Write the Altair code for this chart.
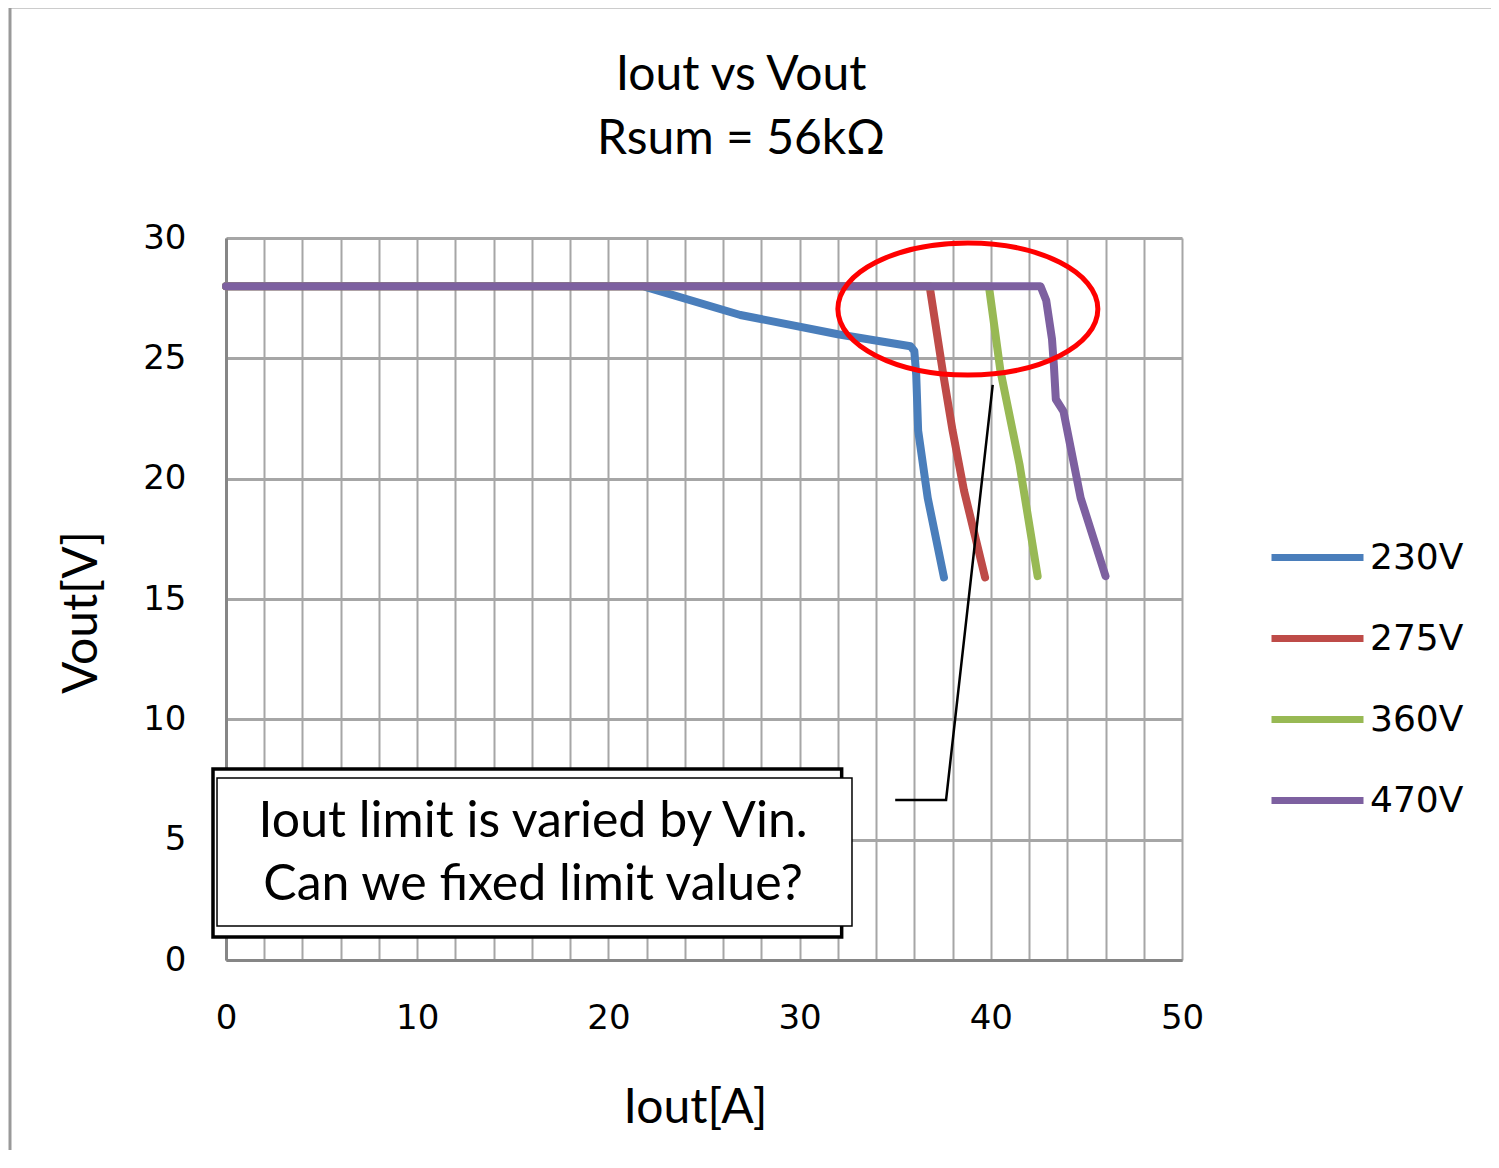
import altair as alt
import pandas as pd

# ---- data ----
series_names = ["230V", "275V", "360V", "470V"]
series_colors = ["#4A7EBB", "#BE4B48", "#98B954", "#7D60A0"]

iout_230 = [0, 21.8, 26.9, 32.0, 35.8, 36.0, 36.1, 36.2, 36.7, 37.55]
vout_230 = [28, 28, 26.8, 26.0, 25.5, 25.3, 24.3, 22.0, 19.2, 15.9]

iout_275 = [0, 36.8, 37.5, 38.0, 38.6, 39.7]
vout_275 = [28, 28, 24.4, 22.0, 19.5, 15.9]

iout_360 = [0, 39.9, 40.5, 41.5, 42.45]
vout_360 = [28, 28, 24.5, 20.6, 15.95]

iout_470 = [0, 42.6, 42.9, 43.2, 43.3, 43.4, 43.8, 44.7, 46.0]
vout_470 = [28, 28, 27.4, 25.8, 24.7, 23.3, 22.8, 19.2, 15.95]

# annotation geometry (data coordinates)
ellipse_x = [38.8]
ellipse_y = [27.05]
callout_x = [35.0, 37.66, 40.1]
callout_y = [6.65, 6.65, 23.9]
note_lines = ["Iout limit is varied by Vin.", "Can we fixed limit value?"]
note_x = [16.06, 16.06]
note_y = [5.73, 3.12]

rows = []
for name, xs_, ys_ in zip(series_names,
                          [iout_230, iout_275, iout_360, iout_470],
                          [vout_230, vout_275, vout_360, vout_470]):
    for i, (x, y) in enumerate(zip(xs_, ys_)):
        rows.append({"series": name, "iout": x, "vout": y, "idx": i})
df = pd.DataFrame(rows)

W, H = 956, 722
xs = alt.Scale(domain=[0, 50], nice=False, zero=False)
ys = alt.Scale(domain=[0, 30], nice=False, zero=False)

x_axis = alt.Axis(
    values=list(range(0, 51, 2)),
    labelExpr="datum.value % 10 === 0 ? datum.label : ''",
    grid=True, gridColor="#a6a6a6", gridWidth=2,
    domainColor="#868686", domainWidth=3,
    ticks=False, tickSize=0,
    labelFont="DejaVu Sans", labelFontSize=34, labelColor="#000",
    labelPadding=58, labelBaseline="middle", labelAlign="center",
    labelFlush=False, labelOverlap=False,
    title="Iout[A]", titleFont="Lato", titleFontSize=48, titleFontWeight="normal",
    titleColor="#000", titleX=469, titleY=148, titleBaseline="middle", titleAlign="center",
)
y_axis = alt.Axis(
    values=list(range(0, 31, 5)),
    grid=True, gridColor="#a6a6a6", gridWidth=3,
    domainColor="#868686", domainWidth=3,
    ticks=False, tickSize=0,
    labelFont="DejaVu Sans", labelFontSize=34, labelColor="#000",
    labelPadding=40, labelBaseline="middle",
    labelFlush=False, labelOverlap=False,
    title="Vout[V]", titleFont="Lato", titleFontSize=48, titleFontWeight="normal",
    titleColor="#000", titleX=-144, titleY=374, titleBaseline="middle", titleAlign="center",
)


def X(field):
    return alt.X(field, scale=xs, axis=x_axis)


def Y(field):
    return alt.Y(field, scale=ys, axis=y_axis)


frame = alt.Chart(pd.DataFrame({"a": [0]})).mark_rect(
    fill="white", fillOpacity=0, stroke="#999999", strokeWidth=3
).encode(x=alt.value(-216), x2=alt.value(1400), y=alt.value(-231), y2=alt.value(1100))

lines = alt.Chart(df).mark_line(strokeWidth=8, strokeCap="round", strokeJoin="round").encode(
    x=X("iout:Q"),
    y=Y("vout:Q"),
    color=alt.Color(
        "series:N",
        scale=alt.Scale(domain=series_names, range=series_colors),
        legend=alt.Legend(
            title=None, orient="none", legendX=1042, legendY=280,
            symbolType="stroke", symbolSize=8464, symbolStrokeWidth=7,
            labelFont="DejaVu Sans", labelFontSize=36, labelColor="#000",
            clipHeight=79, rowPadding=2, labelOffset=3, padding=0, symbolOffset=0,
        ),
    ),
    order=alt.Order("idx:Q"),
)

ellipse = alt.Chart(pd.DataFrame({"iout": ellipse_x, "vout": ellipse_y})).mark_point(
    shape="M -1 0 A 1 0.508 0 1 0 1 0 A 1 0.508 0 1 0 -1 0 Z",
    size=67600, filled=False, stroke="#ff0000", strokeWidth=5, opacity=1,
).encode(x=X("iout:Q"), y=Y("vout:Q"))

callout = alt.Chart(pd.DataFrame({"iout": callout_x, "vout": callout_y, "i": [0, 1, 2]})).mark_line(
    color="#000", strokeWidth=2.5
).encode(x=X("iout:Q"), y=Y("vout:Q"), order=alt.Order("i:Q"))

box_outer = alt.Chart(pd.DataFrame({"iout": [-0.68], "x2": [32.2], "vout": [0.96], "y2": [7.94]})).mark_rect(
    fill="white", stroke="#000", strokeWidth=3.5
).encode(x=X("iout:Q"), x2="x2:Q", y=Y("vout:Q"), y2="y2:Q")

box_inner = alt.Chart(pd.DataFrame({"iout": [-0.47], "x2": [32.74], "vout": [1.41], "y2": [7.56]})).mark_rect(
    fill="white", stroke="#000", strokeWidth=1.5
).encode(x=X("iout:Q"), x2="x2:Q", y=Y("vout:Q"), y2="y2:Q")

note = alt.Chart(pd.DataFrame({"iout": note_x, "vout": note_y, "t": note_lines})).mark_text(
    font="Lato", fontSize=50, color="#000", align="center", baseline="middle"
).encode(x=X("iout:Q"), y=Y("vout:Q"), text="t:N")

chart = alt.layer(frame, lines, ellipse, callout, box_outer, box_inner, note).properties(
    width=W, height=H,
    title=alt.Title(
        text=["Iout vs Vout", "Rsum = 56kΩ"], font="Lato", fontSize=48, fontWeight="normal",
        color="#000", lineHeight=64, frame="group", anchor="middle", dx=37, offset=-158,
    ),
    padding={"left": 218, "top": 230, "right": 309, "bottom": 190},
    autosize=alt.AutoSizeParams(type="none"),
).configure_view(strokeWidth=0).configure(background="white")

chart.save("out.html", embed_options={"renderer": "svg", "actions": False})
